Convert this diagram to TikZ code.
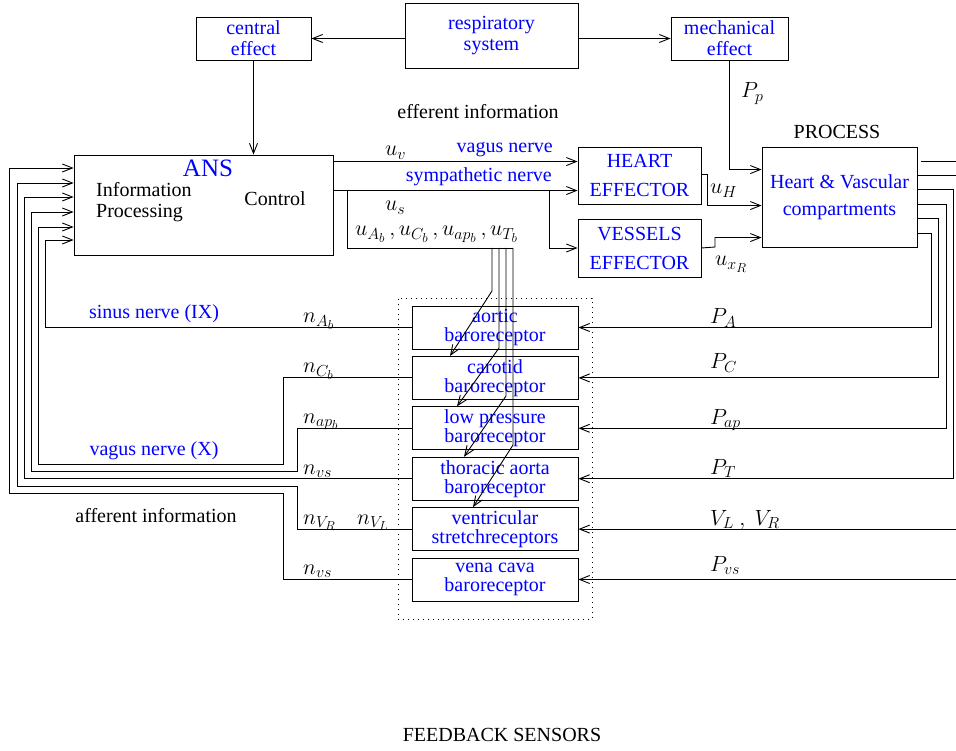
\RequirePackage{fix-cm}
\documentclass[tikz,border=0pt]{standalone}
\usepackage{fontspec}
\setmainfont{Liberation Serif}
\DeclareMathSizes{22}{22}{16}{13}
\usetikzlibrary{arrows.meta,calc}
\tikzset{
  wire/.style={line width=0.9pt, draw=black},
  arr/.style={wire, -{Straight Barb[length=10pt,width=8pt]}},
  box/.style={draw=black, line width=0.9pt, inner sep=0pt, align=center, text=blue,
    font=\fontsize{20}{21}\selectfont},
  sbox/.style={box, minimum width=166pt, minimum height=43pt, font=\fontsize{20}{19}\selectfont},
  lbl/.style={inner sep=0pt, font=\fontsize{20}{21}\selectfont},
  blbl/.style={lbl, text=blue},
  mlbl/.style={inner sep=0pt, anchor=base west, font=\fontsize{22}{24}\selectfont},
}
\begin{document}
\begin{tikzpicture}[x=1pt, y=-1pt]
\useasboundingbox (0,0) rectangle (956,751);

% top row
\node[box, minimum width=115pt, minimum height=43pt] (central) at (253.5,38.5) {central\\effect};
\node[box, minimum width=173pt, minimum height=65pt] (resp) at (491.5,35.5) {respiratory\\system};
\node[box, minimum width=117pt, minimum height=43pt] (mech) at (729.5,38.5) {mechanical\\effect};

% ANS
\node[draw=black, line width=0.9pt, minimum width=259pt, minimum height=100pt, inner sep=0pt] (ans) at (203.5,205) {};
\node[inner sep=0pt, text=blue, font=\fontsize{25}{25}\selectfont] (anst) at (208,168) {ANS};
\node[lbl, anchor=west, align=left] (ip) at (96,202.5) {Information\\Processing};
\node[lbl] (ctl) at (275,199) {Control};

% effectors and process
\node[box, minimum width=123pt, minimum height=57pt, font=\fontsize{20}{29}\selectfont] (heart) at (639.5,175.5) {HEART\\EFFECTOR};
\node[box, minimum width=123pt, minimum height=58pt, font=\fontsize{20}{29}\selectfont] (vessels) at (639.5,248) {VESSELS\\EFFECTOR};
\node[box, minimum width=155pt, minimum height=100pt, font=\fontsize{20}{27}\selectfont] (process) at (839.5,197) {Heart \& Vascular\\compartments};
\node[lbl] (proclbl) at (837,132) {PROCESS};
\node[lbl] (eff) at (478,112) {efferent information};

% sensors
\node[draw=black, dash pattern=on 1pt off 4pt, line width=0.9pt, minimum width=194pt, minimum height=321pt, inner sep=0pt] (fb) at (495,458.5) {};
\node[sbox] (aort) at (495,327.5) {aortic\\baroreceptor};
\node[sbox] (car)  at (495,377.9) {carotid\\baroreceptor};
\node[sbox] (lowp) at (495,428.3) {low pressure\\baroreceptor};
\node[sbox] (thor) at (495,478.7) {thoracic aorta\\baroreceptor};
\node[sbox] (vent) at (495,529.1) {ventricular\\stretchreceptors};
\node[sbox] (vena) at (495,579.5) {vena cava\\baroreceptor};
\node[lbl] (fbl) at (502,735) {FEEDBACK SENSORS};
\node[lbl] (aff) at (156,516) {afferent information};

% top connectors
\draw[arr] (resp.west |- central.east) -- (central.east);
\draw[arr] (resp.east |- mech.west) -- (mech.west);
\draw[arr] (central.south) -- (central.south |- ans.north);
\draw[arr] (mech.south) |- ([yshift=-23pt]process.north west);
\node[mlbl] (pp) at (741,98) {$P_p$};

% efferent
\coordinate (v1) at ([yshift=-7pt]ans.north east);
\coordinate (s1) at ([yshift=-36pt]ans.north east);
\draw[arr] (v1) -- (v1 -| heart.west);
\draw[arr] (s1) -- (s1 -| heart.west);
\coordinate (s2) at (549,191);
\draw[arr] (s2) |- (vessels.west);
\node[blbl, anchor=east] (vn) at (553,150) {vagus nerve};
\node[blbl, anchor=east] (sn) at (552,177) {sympathetic nerve};
\node[mlbl] (uv) at (385,156) {$u_v$};
\node[mlbl] (us) at (385,211) {$u_s$};
\node[mlbl] (ul) at (355,236) {$u_{A_b}\,,u_{C_b}\,,u_{ap_b}\,,u_{T_b}$};

\coordinate (u0) at (347,191);
\coordinate (u1) at (513,248);
\draw[wire] (u0) |- (u1);
\draw[arr] (492,248) -- (492,291) -- ([xshift=-45pt]car.north);
\draw[arr] (499,248) -- (499,348) -- ([xshift=-38pt]lowp.north);
\draw[arr] (506,248) -- (506,396) -- ([xshift=-31pt]thor.north);
\draw[arr] (u1) -- (513,445) -- ([xshift=-22pt]vent.north);

% effectors to process
\coordinate (h1) at (707,174);
\draw[arr] (h1 -| heart.east) -- (h1) |- ([yshift=-59pt]process.north west);
\coordinate (w1) at (715,247);
\draw[arr] (vessels.east) -- (w1) |- ([yshift=-91pt]process.north west);
\node[mlbl] (uh) at (710,194) {$u_H$};
\node[mlbl] (ux) at (715,266) {$u_{x_R}$};

% process outputs
\coordinate (xA) at (931,0);
\coordinate (xC) at (938,0);
\coordinate (xP) at (946,0);
\coordinate (xT) at (953,0);
\coordinate (xE) at (956,0);
\coordinate (o1a) at (921,161);
\coordinate (o1b) at (956,161);
\draw[wire] (o1a) -- (o1b);
\draw[wire] ([yshift=-29pt]process.north east) -- +(39,0);
\draw[arr] ([yshift=-43pt]process.north east) -| (thor.east -| xT) -- (thor.east);
\draw[arr] ([yshift=-58pt]process.north east) -| (lowp.east -| xP) -- (lowp.east);
\draw[arr] ([yshift=-72pt]process.north east) -| (car.east -| xC) -- (car.east);
\draw[arr] ([yshift=-87pt]process.north east) -| (aort.east -| xA) -- (aort.east);
\draw[arr] (vent.east -| xE) -- (vent.east);
\draw[arr] (vena.east -| xE) -- (vena.east);

\node[mlbl] (pa) at (710,324) {$P_A$};
\node[mlbl] (pc) at (710,369) {$P_C$};
\node[mlbl] (pap) at (710,424) {$P_{ap}$};
\node[mlbl] (pt) at (710,474) {$P_T$};
\node[mlbl] (vlr) at (710,525) {$V_L\ ,\ V_R$};
\node[mlbl] (pvs) at (710,571) {$P_{vs}$};

% afferent
\coordinate (a6) at (45,240);
\draw[arr] (aort.west) -| (a6) -- (a6 -| ans.west);
\coordinate (c1) at (283,464);
\coordinate (c2) at (38,227);
\draw[arr] (car.west) -| (c1) -| (c2) -- (c2 -| ans.west);
\coordinate (l1) at (297,471);
\coordinate (l2) at (31,212);
\draw[arr] (lowp.west) -| (l1) -| (l2) -- (l2 -| ans.west);
\coordinate (t2) at (24,197);
\draw[arr] (thor.west) -| (t2) -- (t2 -| ans.west);
\coordinate (e1) at (297,486);
\coordinate (e2) at (17,183);
\draw[arr] (vent.west) -| (e1) -| (e2) -- (e2 -| ans.west);
\coordinate (f1) at (283,493);
\coordinate (f2) at (9,168);
\draw[arr] (vena.west) -| (f1) -| (f2) -- (f2 -| ans.west);

\node[blbl] (sin) at (154,314) {sinus nerve (IX)};
\node[blbl] (vag) at (154,451) {vagus nerve (X)};
\node[mlbl] (nab) at (303,323) {$n_{A_b}$};
\node[mlbl] (ncb) at (303,373) {$n_{C_b}$};
\node[mlbl] (nap) at (303,423) {$n_{ap_b}$};
\node[mlbl] (nvs) at (303,474) {$n_{vs}$};
\node[mlbl] (nvr) at (303,524) {$n_{V_R}$};
\node[mlbl] (nvl) at (357,524) {$n_{V_L}$};
\node[mlbl] (nvs2) at (303,574) {$n_{vs}$};
\end{tikzpicture}
\end{document}
